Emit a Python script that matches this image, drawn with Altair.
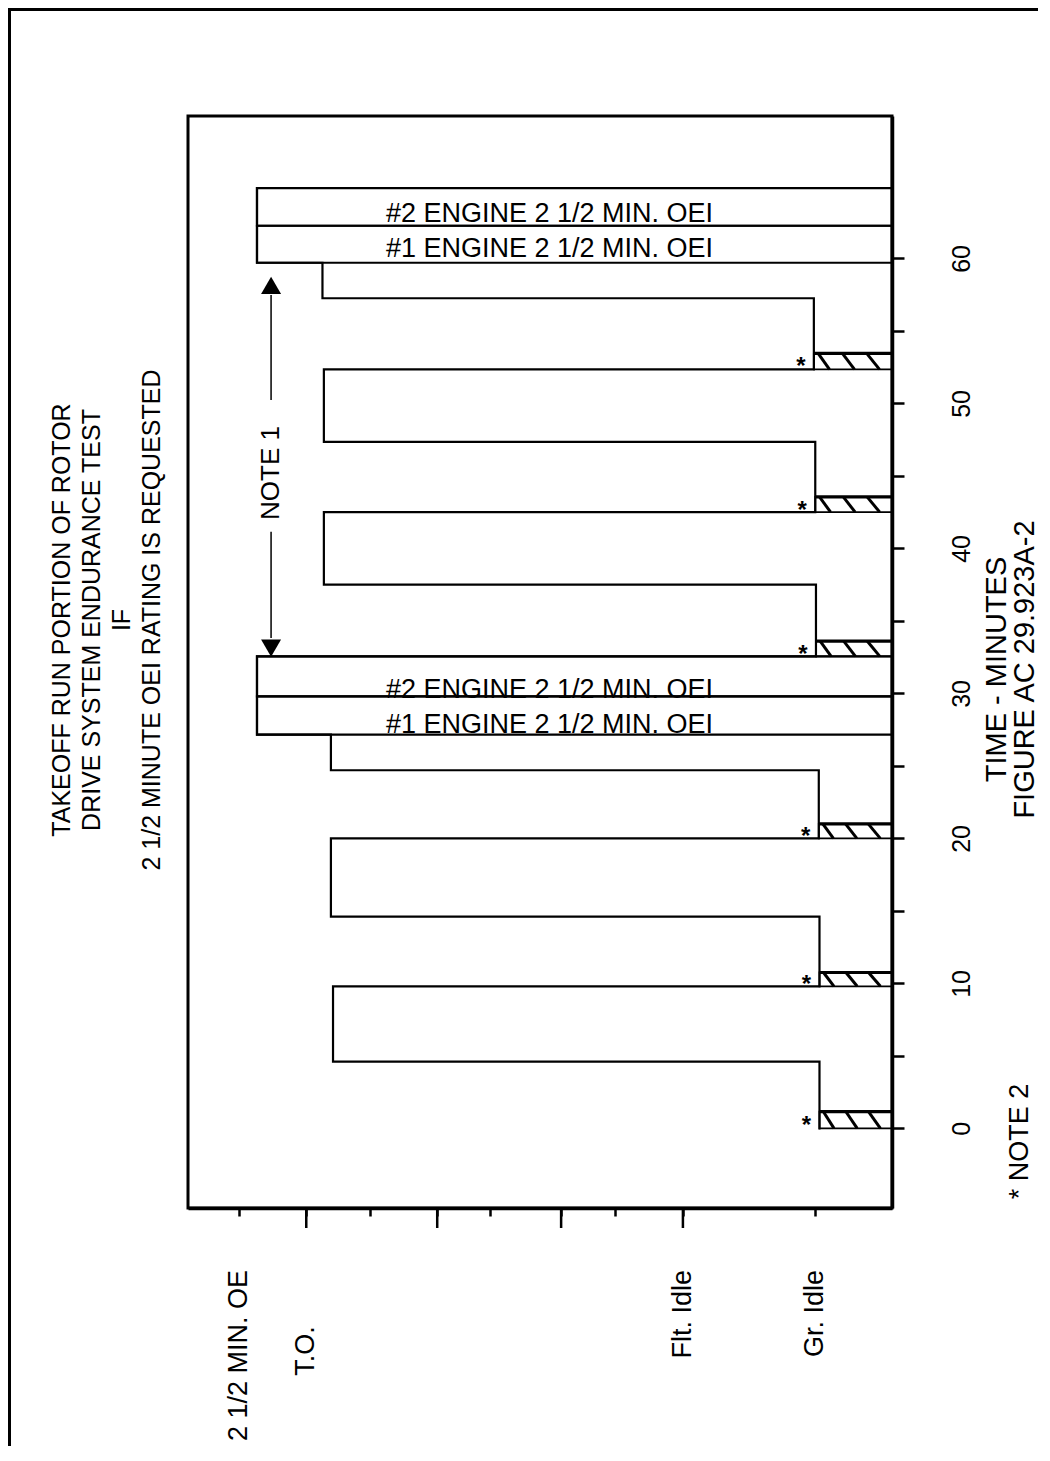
import altair as alt
import pandas as pd

FONT = "Liberation Sans, Arial, Helvetica, sans-serif"

# ---------------- data ----------------
# Time axis (minutes)
time_ticks = [0, 5, 10, 15, 20, 25, 30, 35, 40, 45, 50, 55, 60]
time_domain = [-5.49, 69.82]

# Power axis: relative setting, 0 = right edge of frame, 100 = left edge
power_domain = [0, 100]
power_ticks_long = [83.2, 64.6, 47.0, 29.7]
power_ticks_short = [92.8, 74.1, 57.1, 39.3, 11.0]
power_label_names = ["2 1/2 MIN. OE", "T.O.", "Flt. Idle", "Gr. Idle"]
power_label_values = [92.8, 83.2, 29.7, 11.0]

# Power-setting profile: phase start time (min) and power level
phase_start = [0.0, 4.6, 9.8, 14.6, 20.0, 24.7, 27.15, 32.55, 37.5, 42.5, 47.35, 52.35, 57.25, 59.7]
phase_level = [10.3, 79.4, 10.3, 79.7, 10.4, 79.7, 90.2, 10.8, 80.7, 10.9, 80.7, 11.1, 80.9, 90.2]
profile_end = 64.85

# Ground-idle hatched intervals (NOTE 2)
hatch_start = [0.0, 9.8, 20.0, 32.55, 42.5, 52.35]
hatch_end = [1.15, 10.75, 21.0, 33.6, 43.55, 53.45]
hatch_level = [10.3, 10.3, 10.4, 10.8, 10.9, 11.1]

# OEI bands
oei_names = ["#1 ENGINE 2 1/2 MIN. OEI", "#2 ENGINE 2 1/2 MIN. OEI",
             "#1 ENGINE 2 1/2 MIN. OEI", "#2 ENGINE 2 1/2 MIN. OEI"]
oei_start = [27.15, 29.8, 59.7, 62.25]
oei_end = [29.8, 32.55, 62.25, 64.85]
oei_level = [90.2, 90.2, 90.2, 90.2]
oei_label_time = [27.27, 29.68, 60.1, 62.49]
oei_label_level = [48.65, 48.65, 48.65, 48.65]

# NOTE 1 dimension arrow
note1_level = 88.2
note1_text_time = 45.2
note1_line_start = [33.82, 50.24]
note1_line_end = [41.15, 57.48]
note1_head_time = [33.12, 58.14]
note1_head_shape = ["triangle-down", "triangle-up"]

title_lines = ["TAKEOFF RUN PORTION OF ROTOR", "DRIVE SYSTEM ENDURANCE TEST", "IF",
               "2 1/2 MINUTE OEI RATING IS REQUESTED"]
axis_title_lines = ["TIME - MINUTES", "FIGURE AC 29.923A-2"]
note2_text = "* NOTE 2"

# ---------------- tables ----------------
pts = []
for i, (ts, lv) in enumerate(zip(phase_start, phase_level)):
    if i > 0:
        pts.append((phase_level[i - 1], ts))
    pts.append((lv, ts))
pts.append((phase_level[-1], profile_end))
profile = pd.DataFrame({"v": [p[0] for p in pts], "t": [p[1] for p in pts],
                        "i": list(range(len(pts)))})

hatch = pd.DataFrame({"t": hatch_start, "t2": hatch_end, "v": hatch_level,
                      "v0": [0.0] * len(hatch_start)})
hatch["mid"] = (hatch["t"] + hatch["t2"]) / 2

diag_top = [0.055, 0.365, 0.676]
diag_bot = [0.20, 0.52, 0.84]
drows = []
for s, e, lv in zip(hatch_start, hatch_end, hatch_level):
    for ft, fb in zip(diag_top, diag_bot):
        drows.append({"v": lv * (1 - ft), "v2": lv * (1 - fb), "t": e, "t2": s})
diag = pd.DataFrame(drows)

oei = pd.DataFrame({"t": oei_start, "t2": oei_end, "v": oei_level, "v0": [0.0] * 4})
oei_lab = pd.DataFrame({"name": oei_names, "t": oei_label_time, "v": oei_label_level})

note_lines = pd.DataFrame({"t": note1_line_start, "t2": note1_line_end,
                           "v": [note1_level] * 2})
note_heads = pd.DataFrame({"t": note1_head_time, "v": [note1_level] * 2,
                           "shape": note1_head_shape})
note_text = pd.DataFrame({"t": [note1_text_time], "v": [note1_level], "s": ["NOTE 1"]})

long_ticks = pd.DataFrame({"v": power_ticks_long})
plabels = pd.DataFrame({"name": power_label_names, "v": power_label_values})
one = pd.DataFrame({"a": [0]})

xs = alt.Scale(domain=power_domain, reverse=True, nice=False, zero=False)
ys = alt.Scale(domain=time_domain, nice=False, zero=False)

x_axis = alt.Axis(values=power_ticks_long + power_ticks_short, tickSize=8, tickWidth=2.5,
                  tickColor="black", labels=False, domainWidth=3.5, domainColor="black",
                  grid=False, title="", zindex=1)
y_axis = alt.Axis(orient="right", values=time_ticks, tickSize=12, tickWidth=2.5,
                  tickColor="black", domainWidth=3.5, domainColor="black", grid=False,
                  labelExpr="datum.value % 10 == 0 ? datum.label : ''",
                  labelAngle=270, labelAlign="center", labelBaseline="middle",
                  labelPadding=57, labelFontSize=25, labelFont=FONT, labelColor="black",
                  labelOverlap=False, labelFlush=False,
                  title=axis_title_lines, titleAngle=270, titleFont=FONT, titleFontSize=29,
                  titleFontWeight="normal", titleColor="black", titleX=104, titleY=553,
                  titleAlign="center", titleBaseline="middle", titleLineHeight=28, zindex=1)


def X(f):
    return alt.X(f, type="quantitative", scale=xs, axis=x_axis)


def Y(f):
    return alt.Y(f, type="quantitative", scale=ys, axis=y_axis)


layers = []

# outer page frame
layers.append(alt.Chart(one).mark_rule(color="black", strokeWidth=3).encode(
    x=alt.value(-178.5), y=alt.value(-108), y2=alt.value(1335)))
layers.append(alt.Chart(one).mark_rule(color="black", strokeWidth=3).encode(
    x=alt.value(-180), x2=alt.value(850), y=alt.value(-106.5)))

# profile
layers.append(alt.Chart(profile).mark_line(color="black", strokeWidth=2.2, strokeCap="square").encode(
    x=X("v"), y=Y("t"), order="i:Q"))

# hatched ground-idle blocks
layers.append(alt.Chart(hatch).mark_rect(fillOpacity=0, stroke="black", strokeWidth=1.8).encode(
    x=X("v"), x2="v0:Q", y=Y("t"), y2="t2:Q"))
layers.append(alt.Chart(hatch).mark_rule(color="black", strokeWidth=3.2).encode(
    x=X("v"), x2="v0:Q", y=Y("t2")))
layers.append(alt.Chart(diag).mark_rule(color="black", strokeWidth=3).encode(
    x=X("v"), x2="v2:Q", y=Y("t"), y2="t2:Q"))
layers.append(alt.Chart(hatch).mark_text(text="*", fontSize=24, fontWeight="bold", font=FONT,
                                         dx=-13, dy=6, color="black").encode(
    x=X("v"), y=Y("mid")))

# OEI bands
layers.append(alt.Chart(oei).mark_rect(fillOpacity=0, stroke="black", strokeWidth=2.2).encode(
    x=X("v"), x2="v0:Q", y=Y("t"), y2="t2:Q"))
layers.append(alt.Chart(oei_lab).mark_text(fontSize=27, font=FONT, align="center",
                                           baseline="alphabetic", color="black").encode(
    x=X("v"), y=Y("t"), text="name:N"))

# NOTE 1 arrow
layers.append(alt.Chart(note_lines).mark_rule(color="black", strokeWidth=1.5).encode(
    x=X("v"), y=Y("t"), y2="t2:Q"))
layers.append(alt.Chart(note_heads).mark_point(filled=True, size=400, color="black", opacity=1).encode(
    x=X("v"), y=Y("t"), shape=alt.Shape("shape:N", scale=None)))
layers.append(alt.Chart(note_text).mark_text(angle=270, align="center", baseline="middle",
                                             fontSize=26, font=FONT, color="black").encode(
    x=X("v"), y=Y("t"), text="s:N"))

# long ticks on power axis
layers.append(alt.Chart(long_ticks).mark_rule(color="black", strokeWidth=2.5).encode(
    x=X("v"), y=alt.value(1092), y2=alt.value(1112)))

# power level labels
layers.append(alt.Chart(plabels).transform_filter("datum.name != 'T.O.'").mark_text(
    angle=270, align="right", baseline="middle", fontSize=27, font=FONT, color="black").encode(
    x=X("v"), y=alt.value(1154), text="name:N"))
layers.append(alt.Chart(plabels).transform_filter("datum.name == 'T.O.'").mark_text(
    angle=270, align="center", baseline="middle", fontSize=27, font=FONT, color="black").encode(
    x=X("v"), y=alt.value(1235), text="name:N"))

# title and NOTE 2
layers.append(alt.Chart(one).mark_text(text=title_lines, angle=270, align="center",
                                       baseline="middle", fontSize=25, lineHeight=30,
                                       font=FONT, color="black").encode(
    x=alt.value(-126.5), y=alt.value(504)))
layers.append(alt.Chart(one).mark_text(text=note2_text, angle=270, align="center",
                                       baseline="middle", fontSize=27, font=FONT,
                                       color="black").encode(
    x=alt.value(832), y=alt.value(1025.5)))

chart = alt.layer(*layers).properties(
    width=704, height=1092,
    autosize=alt.AutoSizeParams(type="none"),
    padding={"left": 180, "top": 108, "right": 146, "bottom": 238},
    background="white",
).configure_view(stroke="black", strokeWidth=3)

chart.save("out.html", embed_options={"renderer": "svg", "actions": False})
